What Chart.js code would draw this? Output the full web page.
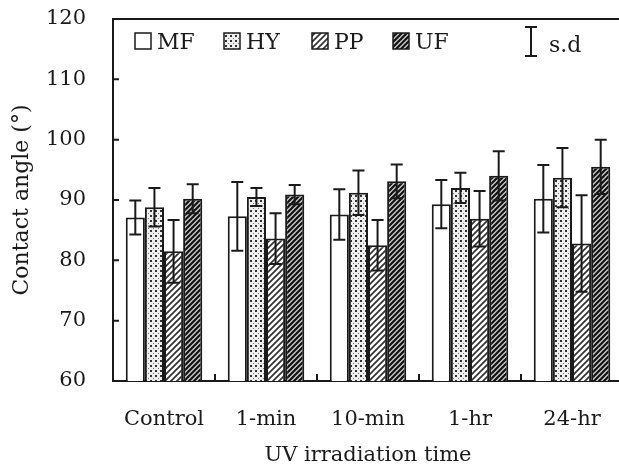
<!DOCTYPE html>
<html>
<head>
<meta charset="utf-8">
<script src="https://cdn.jsdelivr.net/npm/chart.js@4.4.1/dist/chart.umd.min.js"></script>
<style>
    html, body { margin: 0; padding: 0; background: #fff; overflow: hidden; }
    #wrap { width: 640px; height: 468px; }
</style>
</head>
<body>
<div id="wrap"><canvas id="Angle"></canvas></div>
<script>
// values
var Times = ['Control', '1-min', '10-min', '1-hr', '24-hr']
var MF = [87.1, 87.3, 87.6, 89.3, 90.2]
var MF_sd = [2.8, 5.7, 4.2, 4.0, 5.6]
var HY = [88.8, 90.5, 91.2, 92.0, 93.7]
var HY_sd = [3.2, 1.5, 3.7, 2.5, 4.9]
var PP = [81.5, 83.6, 82.5, 86.9, 82.8]
var PP_sd = [5.2, 4.2, 4.2, 4.6, 8.0]
var UF = [90.2, 90.9, 93.1, 94.0, 95.5]
var UF_sd = [2.4, 1.6, 2.8, 4.1, 4.5]
var YTicks = [60, 70, 80, 90, 100, 110, 120]

var FONT = 'DejaVu Serif'
var INK = '#1a1a1a'

function dots() {
    var c = document.createElement('canvas')
    c.width = 5; c.height = 5
    var g = c.getContext('2d')
    g.fillStyle = '#eee'
    g.fillRect(0, 0, 5, 5)
    g.fillStyle = '#333'
    g.fillRect(0, 0, 2, 2)
    g.fillStyle = '#777'
    g.fillRect(3, 3, 1, 1)
    return g.createPattern(c, 'repeat')
}

function hatch(size, width, ink, bg) {
    var c = document.createElement('canvas')
    c.width = size; c.height = size
    var g = c.getContext('2d')
    g.fillStyle = bg
    g.fillRect(0, 0, size, size)
    g.strokeStyle = ink
    g.lineWidth = width
    g.beginPath()
    g.moveTo(0, size); g.lineTo(size, 0)
    g.moveTo(-1, 1); g.lineTo(1, -1)
    g.moveTo(size - 1, size + 1); g.lineTo(size + 1, size - 1)
    g.stroke()
    return g.createPattern(c, 'repeat')
}

var errorBars = {
    id: 'errorBars',
    afterDatasetsDraw(chart) {
        var ctx = chart.ctx
        var y = chart.scales.y
        ctx.save()
        ctx.strokeStyle = INK
        ctx.lineWidth = 2
        chart.data.datasets.forEach((ds, d) => {
            var meta = chart.getDatasetMeta(d)
            meta.data.forEach((bar, i) => {
                var top = y.getPixelForValue(ds.data[i] + ds.sd[i])
                var bot = y.getPixelForValue(ds.data[i] - ds.sd[i])
                ctx.beginPath()
                ctx.moveTo(bar.x, top); ctx.lineTo(bar.x, bot)
                ctx.moveTo(bar.x - 6, top); ctx.lineTo(bar.x + 6, top)
                ctx.moveTo(bar.x - 6, bot); ctx.lineTo(bar.x + 6, bot)
                ctx.stroke()
            })
        })
        ctx.restore()
    }
}

// legend offsets from the left of the plot
var KeyX = [22, 111, 199, 280]

var frame = {
    id: 'frame',
    afterDraw(chart) {
        var ctx = chart.ctx
        var a = chart.chartArea
        var x = chart.scales.x
        var y = chart.scales.y
        ctx.save()
        ctx.strokeStyle = INK
        ctx.lineWidth = 2
        ctx.beginPath()
        ctx.moveTo(a.left - 1, a.top); ctx.lineTo(a.right + 20, a.top)
        YTicks.forEach(v => {
            var py = y.getPixelForValue(v)
            ctx.moveTo(a.left, py); ctx.lineTo(a.left + 6, py)
        })
        var step = x.getPixelForValue(1) - x.getPixelForValue(0)
        for (var i = 0; i < Times.length; i++) {
            var px = x.getPixelForValue(i) + step / 2
            ctx.moveTo(px, a.bottom); ctx.lineTo(px, a.bottom - 7)
        }
        ctx.stroke()

        // legend inside the plot
        ctx.font = '22px "' + FONT + '"'
        ctx.fillStyle = INK
        ctx.textBaseline = 'alphabetic'
        chart.data.datasets.forEach((ds, d) => {
            var bx = a.left + KeyX[d], by = a.top + 14
            ctx.fillStyle = ds.backgroundColor
            ctx.fillRect(bx, by, 16, 16)
            ctx.lineWidth = 1.5
            ctx.strokeRect(bx, by, 16, 16)
            ctx.fillStyle = INK
            ctx.fillText(ds.label, bx + 22, by + 16)
        })

        // s.d key
        var sx = a.left + 418, t = a.top + 8, b = a.top + 37
        ctx.lineWidth = 2
        ctx.beginPath()
        ctx.moveTo(sx, t); ctx.lineTo(sx, b)
        ctx.moveTo(sx - 6, t); ctx.lineTo(sx + 6, t)
        ctx.moveTo(sx - 6, b); ctx.lineTo(sx + 6, b)
        ctx.stroke()
        ctx.fillText('s.d', sx + 18, a.top + 33)
        ctx.restore()
    }
}

var ctx = document.getElementById('Angle').getContext('2d')
var myChart = new Chart(ctx, {
    type: 'bar',
    data: {
        labels: Times,
        datasets: [
            { label: 'MF', data: MF, sd: MF_sd, backgroundColor: '#fff' },
            { label: 'HY', data: HY, sd: HY_sd, backgroundColor: dots() },
            { label: 'PP', data: PP, sd: PP_sd, backgroundColor: hatch(6, 1.7, '#333', '#fff') },
            { label: 'UF', data: UF, sd: UF_sd, backgroundColor: hatch(5, 2.2, '#111', '#ccc') }
        ]
    },
    options: {
        responsive: true,
        maintainAspectRatio: false,
        animation: false,
        datasets: {
            bar: {
                borderColor: INK,
                borderWidth: 2,
                borderSkipped: false,
                categoryPercentage: 0.75,
                barPercentage: 1
            }
        },
        layout: { padding: { top: 19, right: 17, left: 0, bottom: 0 } },
        plugins: {
            legend: { display: false },
            tooltip: { enabled: false }
        },
        scales: {
            x: {
                grid: { display: false },
                border: { display: true, color: INK, width: 2 },
                ticks: { color: INK, font: { family: FONT, size: 21 }, padding: 18, maxRotation: 0 },
                title: { display: true, text: 'UV irradiation time', color: INK, font: { family: FONT, size: 21 }, padding: { top: 0, bottom: 0 } },
                afterFit(scale) { scale.height = 87 }
            },
            y: {
                min: 60,
                max: 120,
                grid: { display: false },
                border: { display: true, color: INK, width: 2 },
                ticks: { stepSize: 10, color: INK, font: { family: FONT, size: 21 }, padding: 19 },
                title: { display: true, text: 'Contact angle (°)', color: INK, font: { family: FONT, size: 22 }, padding: { top: 9, bottom: 0 } },
                afterFit(scale) {
                    scale.width = 113
                    scale.paddingTop = 0
                    scale.paddingBottom = 0
                }
            }
        }
    },
    plugins: [errorBars, frame]
})
</script>
</body>
</html>
